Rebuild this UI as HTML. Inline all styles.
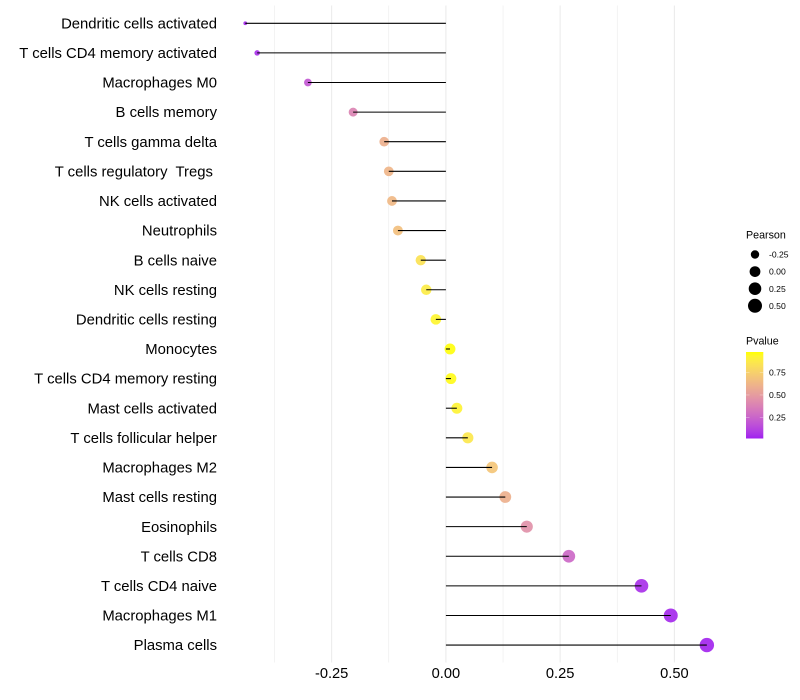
<!DOCTYPE html>
<html>
<head>
<meta charset="utf-8">
<style>
html,body{margin:0;padding:0;background:#fff;width:800px;height:700px;overflow:hidden}
svg{display:block;font-family:"Liberation Sans",sans-serif}
</style>
</head>
<body>
<svg id="chart" width="800" height="700" viewBox="0 0 800 700" xmlns="http://www.w3.org/2000/svg">
<rect width="800" height="700" fill="#ffffff"/>
<defs><linearGradient id="pvalue-gradient" x1="0" y1="1" x2="0" y2="0"></linearGradient></defs>
<g id="grid"></g>
<g id="dots"></g>
<g id="stems"></g>
<g id="ylabels"></g>
<g id="xlabels"></g>
<g id="legend-size">
<text x="746" y="238.7" font-size="10.7" fill="#000">Pearson</text>
</g>
<g id="legend-color">
<text x="746" y="344.7" font-size="10.7" fill="#000">Pvalue</text>
<rect x="746" y="352" width="17.3" height="86.5" fill="url(#pvalue-gradient)"/>
</g>
</svg>
<script>
const categories = ["Dendritic cells activated","T cells CD4 memory activated","Macrophages M0","B cells memory","T cells gamma delta","T cells regulatory  Tregs ","NK cells activated","Neutrophils","B cells naive","NK cells resting","Dendritic cells resting","Monocytes","T cells CD4 memory resting","Mast cells activated","T cells follicular helper","Macrophages M2","Mast cells resting","Eosinophils","T cells CD8","T cells CD4 naive","Macrophages M1","Plasma cells"];
const pearson = [-0.439,-0.413,-0.302,-0.203,-0.135,-0.125,-0.118,-0.105,-0.055,-0.043,-0.022,0.009,0.011,0.024,0.048,0.101,0.130,0.177,0.269,0.428,0.492,0.571];
const pvalue = [0.04,0.06,0.20,0.39,0.60,0.62,0.64,0.67,0.84,0.88,0.93,0.97,0.96,0.92,0.86,0.70,0.60,0.45,0.27,0.06,0.04,0.03];
const xTicks = [-0.25,0,0.25,0.5];
const xTickLabels = ["-0.25","0.00","0.25","0.50"];
const xMinorTicks = [-0.375,-0.125,0.125,0.375];
const sizeLegendValues = [-0.25,0,0.25,0.5];
const sizeLegendLabels = ["-0.25","0.00","0.25","0.50"];
const colorLegendValues = [0.75,0.5,0.25];
const colorLegendLabels = ["0.75","0.50","0.25"];

const NS = "http://www.w3.org/2000/svg";
const X0 = 445.9, XS = 457, Y0 = 23.28, YS = 29.61;
const PANEL_TOP = 5.5, PANEL_BOTTOM = 662.5;
const pMin = 0.017, pMax = 0.977;
const vMin = Math.min.apply(null, pearson), vMax = Math.max.apply(null, pearson);

function xScale(v){ return X0 + v * XS; }
function yScale(i){ return Y0 + i * YS; }
function rScale(v){
  const t = Math.max(0, (v - vMin) / (vMax - vMin));
  return 1.9 + 5.3 * Math.sqrt(t);
}
function pScale(p){ return 438.5 - (p - pMin) / (pMax - pMin) * 86.5; }

function rgb2lab(c){
  const f = c.map(function(u){ u/=255; return u<=0.04045?u/12.92:Math.pow((u+0.055)/1.055,2.4); });
  const x=(0.4124*f[0]+0.3576*f[1]+0.1805*f[2])/0.95047,
        y=0.2126*f[0]+0.7152*f[1]+0.0722*f[2],
        z=(0.0193*f[0]+0.1192*f[1]+0.9505*f[2])/1.08883;
  const g=function(t){return t>0.008856?Math.cbrt(t):7.787*t+16/116;};
  return [116*g(y)-16,500*(g(x)-g(y)),200*(g(y)-g(z))];
}
function lab2rgb(l){
  const fy=(l[0]+16)/116,fx=l[1]/500+fy,fz=fy-l[2]/200;
  const g=function(t){return t*t*t>0.008856?t*t*t:(t-16/116)/7.787;};
  const x=g(fx)*0.95047,y=g(fy),z=g(fz)*1.08883;
  const r=[3.2406*x-1.5372*y-0.4986*z,-0.9689*x+1.8758*y+0.0415*z,0.0557*x-0.2040*y+1.0570*z];
  return r.map(function(u){
    u=Math.max(0,Math.min(1,u));
    u=u<=0.0031308?12.92*u:1.055*Math.pow(u,1/2.4)-0.055;
    return Math.round(u*255);
  });
}
const labLow = rgb2lab([160,32,240]), labHigh = rgb2lab([255,255,0]);
function colorAt(t){
  t=Math.max(0,Math.min(1,t));
  const c=lab2rgb([0,1,2].map(function(i){return labLow[i]+(labHigh[i]-labLow[i])*t;}));
  return "rgb("+c[0]+","+c[1]+","+c[2]+")";
}
function pColor(p){ return colorAt((p-pMin)/(pMax-pMin)); }

function make(tag, parentId, attrs){
  const el = document.createElementNS(NS, tag);
  for (const k in attrs) el.setAttribute(k, attrs[k]);
  document.getElementById(parentId).appendChild(el);
  return el;
}

// colorbar gradient
for (let s = 0; s <= 20; s++) {
  const stop = make("stop", "pvalue-gradient", {offset: (s*5)+"%", "stop-color": colorAt(s/20)});
  
  
}

// grid
xMinorTicks.forEach(function(v){
  const l = make("line", "grid", {x1:xScale(v), x2:xScale(v), y1:PANEL_TOP, y2:PANEL_BOTTOM, stroke:"#ebebeb", "stroke-width":0.6});
  
  
});
xTicks.forEach(function(v){
  const l = make("line", "grid", {x1:xScale(v), x2:xScale(v), y1:PANEL_TOP, y2:PANEL_BOTTOM, stroke:"#ebebeb", "stroke-width":1.07});
  
  
});

// points, stems, y labels
categories.forEach(function(c, i){
  const y = yScale(i), x = xScale(pearson[i]);
  const dot = make("circle", "dots", {cx:x, cy:y, r:rScale(pearson[i]), fill:pColor(pvalue[i]), "fill-opacity":0.92});
  
  
  const stem = make("line", "stems", {x1:xScale(0), x2:x, y1:y, y2:y, stroke:"#000", "stroke-width":1.07});
  
  
  const t = make("text", "ylabels", {x:217, y:y+5.1, "text-anchor":"end", "font-size":14.85, fill:"#000", "xml:space":"preserve"});
  t.style.whiteSpace = "pre";
  t.textContent = c;
  
  
});

// x labels
xTicks.forEach(function(v, i){
  const t = make("text", "xlabels", {x:xScale(v), y:678.2, "text-anchor":"middle", "font-size":14.65, fill:"#000"});
  t.textContent = xTickLabels[i];
  
  
});

// size legend
sizeLegendValues.forEach(function(v, i){
  const y = 254.5 + i * 17.1;
  const c = make("circle", "legend-size", {cx:755, cy:y, r:rScale(v), fill:"#000"});
  
  
  const t = make("text", "legend-size", {x:769, y:y+3.1, "font-size":8.6, fill:"#000"});
  t.textContent = sizeLegendLabels[i];
  
  
});

// color legend
colorLegendValues.forEach(function(p, i){
  const y = pScale(p);
  const a = make("line", "legend-color", {x1:746, x2:749.5, y1:y, y2:y, stroke:"#fff", "stroke-width":0.5, "stroke-opacity":0.6});
  
  
  const b = make("line", "legend-color", {x1:759.8, x2:763.3, y1:y, y2:y, stroke:"#fff", "stroke-width":0.5, "stroke-opacity":0.6});
  
  
  const t = make("text", "legend-color", {x:769, y:y+3.1, "font-size":8.6, fill:"#000"});
  t.textContent = colorLegendLabels[i];
  
  
});
</script>
</body>
</html>
